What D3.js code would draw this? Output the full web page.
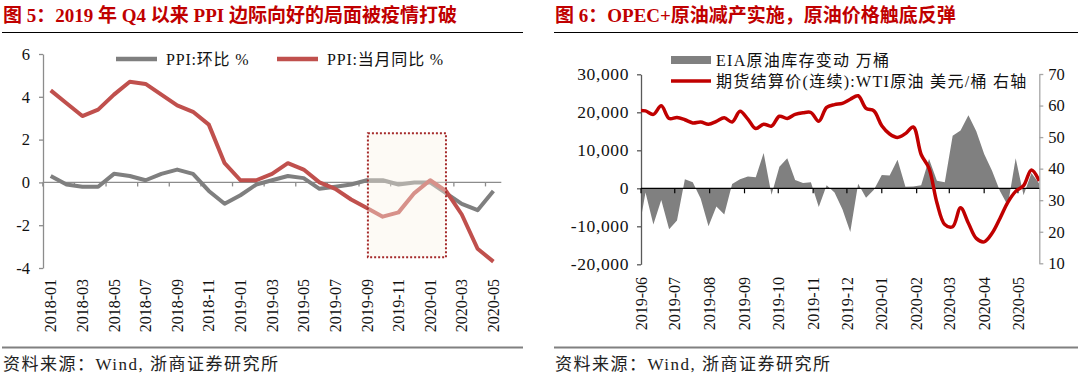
<!DOCTYPE html>
<html><head><meta charset="utf-8">
<script src="https://cdn.jsdelivr.net/npm/d3@7"></script>
<style>
html,body{margin:0;padding:0;background:#fff;}
svg{display:block;}
text{font-family:"Liberation Serif","Noto Sans CJK SC",serif;}
</style></head><body>
<svg id="c" width="1080" height="379"></svg>
<script>
// ---------- Figure 5 data ----------
const ppiMonths = ["2018-01","2018-02","2018-03","2018-04","2018-05","2018-06","2018-07","2018-08","2018-09","2018-10","2018-11","2018-12",
  "2019-01","2019-02","2019-03","2019-04","2019-05","2019-06","2019-07","2019-08","2019-09","2019-10","2019-11","2019-12",
  "2020-01","2020-02","2020-03","2020-04","2020-05"];
const ppiMoM = [0.3,-0.1,-0.2,-0.2,0.4,0.3,0.1,0.4,0.6,0.4,-0.4,-1.0,-0.6,-0.1,0.1,0.3,0.2,-0.3,-0.2,-0.1,0.1,0.1,-0.1,0.0,0.0,-0.5,-1.0,-1.3,-0.4];
const ppiYoY = [4.3,3.7,3.1,3.4,4.1,4.7,4.6,4.1,3.6,3.3,2.7,0.9,0.1,0.1,0.4,0.9,0.6,0.0,-0.3,-0.8,-1.2,-1.6,-1.4,-0.5,0.1,-0.4,-1.5,-3.1,-3.7];
const ppiYTicks = [-4,-2,0,2,4,6];
const ppiLabelMonths = ppiMonths.filter((m,i)=>i%2===0);
const ppiBoxMonths = ["2019-09","2020-02"];
const ppiBoxValues = [2.3,-3.5];
const ppiSeriesNames = ["PPI:环比 %","PPI:当月同比 %"];

// ---------- Figure 6 data ----------
const eiaDates = ["2019-06-26","2019-07-03","2019-07-10","2019-07-17","2019-07-24","2019-07-31","2019-08-07","2019-08-14","2019-08-21","2019-08-28",
  "2019-09-04","2019-09-11","2019-09-18","2019-09-25","2019-10-02","2019-10-09","2019-10-16","2019-10-23","2019-10-30","2019-11-06",
  "2019-11-13","2019-11-20","2019-11-27","2019-12-04","2019-12-11","2019-12-18","2019-12-25","2020-01-01","2020-01-08","2020-01-15",
  "2020-01-22","2020-01-29","2020-02-05","2020-02-12","2020-02-19","2020-02-26","2020-03-04","2020-03-11","2020-03-18","2020-03-25",
  "2020-04-01","2020-04-08","2020-04-15","2020-04-22","2020-04-29","2020-05-06","2020-05-13","2020-05-20","2020-05-27","2020-06-03",
  "2020-06-10","2020-06-17"];
const eiaChange = [-12800,-1100,-9500,-3100,-10800,-8500,2400,1600,-2700,-10000,
  -4800,-6900,1100,2400,3100,2900,9300,-1700,5700,7900,
  2200,1400,1600,-4900,800,-1100,-5500,-11500,1200,-2500,
  -400,3500,3400,7500,400,500,800,7700,2000,1600,
  13800,15200,19200,15000,9000,4600,-700,-4500,7900,-1800,
  4000,1200];
const wtiPrice = [58.4,58.3,57.2,59.9,55.9,56.2,55.5,54.5,54.8,54.1,
  55.0,56.1,54.8,58.2,55.7,52.7,54.1,53.5,56.6,55.9,
  57.2,57.7,57.8,55.0,59.4,60.3,60.7,62.0,63.1,59.1,
  58.3,53.6,51.0,49.9,51.1,53.2,44.5,40.1,29.2,22.3,
  21.6,27.6,22.7,17.9,16.8,19.5,24.2,29.3,32.8,34.6,
  39.6,36.1];
const oilAxisRange = ["2019-06-29","2020-06-17"];
const oilTickDates = ["2019-06-29","2019-07-29","2019-08-29","2019-09-29","2019-10-29","2019-11-29","2019-12-29",
  "2020-01-29","2020-02-29","2020-03-29","2020-04-29","2020-05-29"];
const oilLeftTicks = [-20000,-10000,0,10000,20000,30000];
const oilRightTicks = [10,20,30,40,50,60,70];
const oilSeriesNames = ["EIA原油库存变动 万桶","期货结算价(连续):WTI原油 美元/桶 右轴"];

const titles = ["图 5：2019 年 Q4 以来 PPI 边际向好的局面被疫情打破","图 6：OPEC+原油减产实施，原油价格触底反弹"];
const source = "资料来源：Wind, 浙商证券研究所";

// ---------- drawing ----------
const svg = d3.select("#c");
const TITLE_COLOR = "#C00000";

function frame(x0, x1, title) {
  svg.append("text").attr("x", x0+1).attr("y", 22).attr("fill", TITLE_COLOR)
    .attr("font-size", 19).attr("font-weight", "bold").text(title);
  svg.append("line").attr("x1", x0).attr("x2", x1).attr("y1", 32.5).attr("y2", 32.5)
    .attr("stroke", "#000").attr("stroke-width", 1.2);
  svg.append("line").attr("x1", x0).attr("x2", x1).attr("y1", 347.5).attr("y2", 347.5)
    .attr("stroke", "#808080").attr("stroke-width", 2);
  svg.append("text").attr("x", x0+1).attr("y", 370).attr("fill", "#222")
    .attr("font-size", 17).attr("letter-spacing", 1.5).text(source);
}
frame(2, 523, titles[0]);
frame(554, 1078, titles[1]);

// ===== Figure 5 =====
const gL = svg.append("g");
const xL = d3.scaleBand().domain(ppiMonths).range([42.8, 501.3]).padding(0);
const bw = xL.bandwidth();
const yL = d3.scaleLinear().domain([-4, 6]).range([268, 54]);
const AX = "#8C8C8C";

const yAxL = gL.append("g").attr("transform", "translate(43,0)")
  .call(d3.axisLeft(yL).tickValues(ppiYTicks).tickSize(4).tickSizeOuter(0).tickPadding(9).tickFormat(d => String(d)));
yAxL.select(".domain").attr("stroke", AX).attr("stroke-width", 1.3);
yAxL.selectAll(".tick line").attr("stroke", AX).attr("stroke-width", 1.3);
yAxL.selectAll(".tick text").attr("font-size", 16.5).attr("fill", "#111")
  .attr("font-family", "Liberation Serif");

// x axis line at zero
gL.append("line").attr("x1", 42.8).attr("x2", 501.3).attr("y1", yL(0)).attr("y2", yL(0))
  .attr("stroke", AX).attr("stroke-width", 1.3);
gL.selectAll(".xt").data(ppiLabelMonths).enter().append("line")
  .attr("x1", d => xL(d)).attr("x2", d => xL(d))
  .attr("y1", yL(0)).attr("y2", yL(0) + 4).attr("stroke", AX).attr("stroke-width", 1.3);
gL.selectAll(".xl").data(ppiLabelMonths).enter().append("text")
  .attr("transform", d => `translate(${xL(d) + bw/2},279) rotate(-90)`)
  .attr("text-anchor", "end").attr("dy", "0.35em").attr("font-size", 16).attr("fill", "#111")
  .text(d => d);

const lineL = d3.line().x((d,i) => xL(ppiMonths[i]) + bw/2).y(d => yL(d));
gL.append("path").datum(ppiMoM).attr("d", lineL).attr("fill", "none")
  .attr("stroke", "#7F7F7F").attr("stroke-width", 4).attr("stroke-linejoin", "round");
gL.append("path").datum(ppiYoY).attr("d", lineL).attr("fill", "none")
  .attr("stroke", "#C0504D").attr("stroke-width", 4).attr("stroke-linejoin", "round");

// highlight box
const bx1 = xL(ppiBoxMonths[0]) + bw/2 + 1, bx2 = xL(ppiBoxMonths[1]) + bw/2;
const by1 = yL(ppiBoxValues[0]), by2 = yL(ppiBoxValues[1]);
gL.append("rect").attr("x", bx1).attr("y", by1).attr("width", bx2 - bx1).attr("height", by2 - by1)
  .attr("fill", "rgb(251,242,231)").attr("fill-opacity", 0.4);
gL.append("rect").attr("x", bx1).attr("y", by1).attr("width", bx2 - bx1).attr("height", by2 - by1)
  .attr("fill", "none").attr("stroke", "#A52A2A").attr("stroke-width", 2).attr("stroke-dasharray", "2,2");

// legend
const legL = [{x: 116, c: "#7F7F7F"}, {x: 277, c: "#C0504D"}];
legL.forEach((l, i) => {
  gL.append("line").attr("x1", l.x).attr("x2", l.x + 41).attr("y1", 59).attr("y2", 59)
    .attr("stroke", l.c).attr("stroke-width", 4.5);
  gL.append("text").attr("x", l.x + 50).attr("y", 64.5).attr("font-size", 16).attr("fill", "#111")
    .attr("letter-spacing", 0.8).text(ppiSeriesNames[i]);
});

// ===== Figure 6 =====
const parse = d3.timeParse("%Y-%m-%d");
const gR = svg.append("g");
const xR = d3.scaleTime().domain(oilAxisRange.map(parse)).range([641, 1039.3]);
const yR = d3.scaleLinear().domain([-20000, 30000]).range([264.3, 74.3]);
const yR2 = d3.scaleLinear().domain([10, 70]).range([263.3, 74]);

svg.append("defs").append("clipPath").attr("id", "clipR").append("rect")
  .attr("x", 641).attr("y", 40).attr("width", 1039.3 - 641).attr("height", 240);

const dates = eiaDates.map(parse);
const area = d3.area().x((d,i) => xR(dates[i])).y0(yR(0)).y1(d => yR(d));
gR.append("path").datum(eiaChange).attr("d", area).attr("fill", "#808080").attr("clip-path", "url(#clipR)");

// left axis
const yAxR = gR.append("g").attr("transform", "translate(641,0)")
  .call(d3.axisLeft(yR).tickValues(oilLeftTicks).tickSize(4).tickSizeOuter(0).tickPadding(8)
    .tickFormat(d => (d < 0 ? "-" : "") + d3.format(",")(Math.abs(d))));
yAxR.select(".domain").attr("stroke", "#595959").attr("stroke-width", 1.3);
yAxR.selectAll(".tick line").attr("stroke", "#595959").attr("stroke-width", 1.3);
yAxR.selectAll(".tick text").attr("font-size", 17.5).attr("fill", "#111").attr("font-family", "Liberation Serif")
  .attr("letter-spacing", 0.6);

// right axis
const yAxR2 = gR.append("g").attr("transform", "translate(1039.3,0)")
  .call(d3.axisRight(yR2).tickValues(oilRightTicks).tickSize(4).tickSizeOuter(0).tickPadding(5));
yAxR2.select(".domain").attr("stroke", "#A6A6A6").attr("stroke-width", 1.3);
yAxR2.selectAll(".tick line").attr("stroke", "#A6A6A6").attr("stroke-width", 1.3);
yAxR2.selectAll(".tick text").attr("font-size", 16.5).attr("fill", "#111").attr("font-family", "Liberation Serif");

// zero line + month ticks
gR.append("line").attr("x1", 641).attr("x2", 1039.3).attr("y1", yR(0)).attr("y2", yR(0))
  .attr("stroke", "#000").attr("stroke-width", 1.2);
const tdates = oilTickDates.map(parse);
gR.selectAll(".mt").data(tdates).enter().append("line")
  .attr("x1", d => xR(d)).attr("x2", d => xR(d)).attr("y1", yR(0)).attr("y2", yR(0) + 5)
  .attr("stroke", "#000").attr("stroke-width", 1.2);
const fmt = d3.timeFormat("%Y-%m");
gR.selectAll(".ml").data(tdates).enter().append("text")
  .attr("transform", d => `translate(${xR(d)},277) rotate(-90)`)
  .attr("text-anchor", "end").attr("dy", "0.35em").attr("font-size", 16).attr("fill", "#111")
  .text(d => fmt(d));

// WTI line
const lineR = d3.line().x((d,i) => xR(dates[i])).y(d => yR2(d)).curve(d3.curveCatmullRom.alpha(0.5));
gR.append("path").datum(wtiPrice).attr("d", lineR).attr("fill", "none")
  .attr("stroke", "#C00000").attr("stroke-width", 3.5).attr("stroke-linejoin", "round")
  .attr("clip-path", "url(#clipR)");

// legend
gR.append("rect").attr("x", 671).attr("y", 56).attr("width", 40).attr("height", 8).attr("fill", "#808080");
gR.append("text").attr("x", 716).attr("y", 66).attr("font-size", 16).attr("fill", "#111")
  .attr("letter-spacing", 1.3).text(oilSeriesNames[0]);
gR.append("line").attr("x1", 671).attr("x2", 711).attr("y1", 81).attr("y2", 81)
  .attr("stroke", "#C00000").attr("stroke-width", 3.5);
gR.append("text").attr("x", 716).attr("y", 87).attr("font-size", 16).attr("fill", "#111")
  .attr("letter-spacing", 1.3).text(oilSeriesNames[1]);
</script>
</body></html>
